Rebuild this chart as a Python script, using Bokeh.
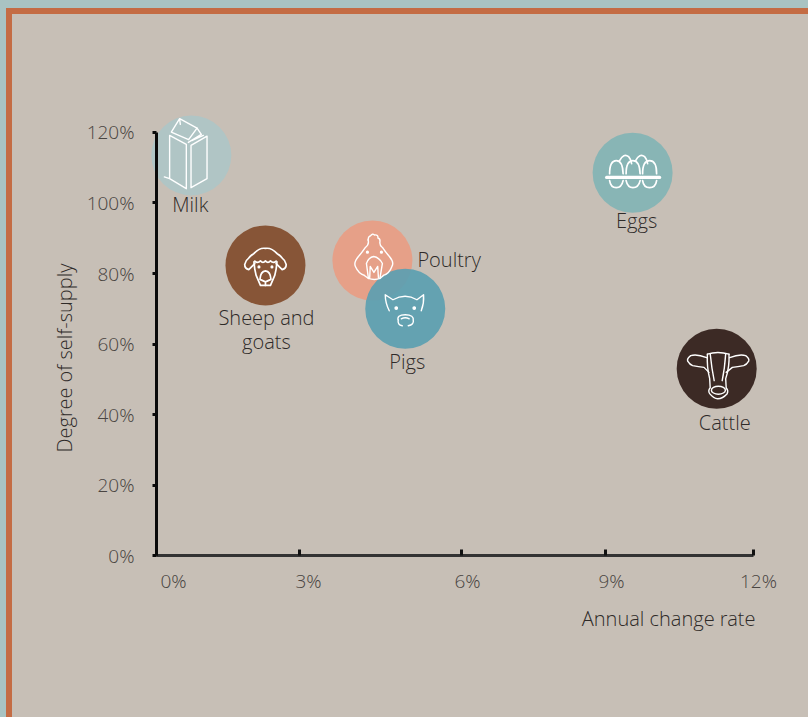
import base64
from bokeh.plotting import figure
from bokeh.models import ColumnDataSource, Range1d, FixedTicker
from bokeh.core.properties import value
from bokeh.embed import file_html
from bokeh.resources import INLINE

# ---- data ----
names = ["Poultry", "Pigs", "Milk", "Eggs", "Sheep and goats", "Cattle"]
annual_change = [4.34, 5.0, 0.70, 9.57, 2.19, 11.26]
self_supply = [83.7, 70.0, 113.5, 108.6, 82.3, 53.0]
bubble_colors = ["#e6a088", "#5c9fb0", "#b0c5c5", "#88b5b5", "#875537", "#3c2a25"]
bubble_alpha = [1.0, 0.93, 1.0, 1.0, 1.0, 1.0]

label_lines = ["Poultry", "Pigs", "Milk", "Eggs", "Sheep and", "goats", "Cattle"]
label_x = [4.34, 5.0, 0.70, 9.57, 2.19, 2.19, 11.26]
label_y = [83.7, 69.8, 113.5, 108.6, 82.3, 82.3, 53.0]
label_dx = [45, 2, -1, 4, 1, 1, 8]
label_dy = [-1, 52, 49, 48, 52, 76, 54]
label_align = ["left", "center", "center", "center", "center", "center", "center"]

x_tick_pos = [0, 2.874, 6.13, 9.025, 12]
x_tick_labels = ["0%", "3%", "6%", "9%", "12%"]
x_label_dx = [17, 9, 6, 6, 5]
y_ticks = [0, 20, 40, 60, 80, 100, 120]
y_tick_labels = ["0%", "20%", "40%", "60%", "80%", "100%", "120%"]

FONT = "Open Sans Light"
TEXT = "#2e2a28"
TICK_TEXT = "#4a4542"
PANEL = "#c7bfb6"

def svg(body):
    s = ('<svg xmlns="http://www.w3.org/2000/svg" width="80" height="80" viewBox="0 0 80 80">'
         '<g fill="none" stroke="#ffffff" stroke-width="1.4" stroke-linejoin="round" stroke-linecap="round">'
         + body + '</g></svg>')
    return "data:image/svg+xml;base64," + base64.b64encode(s.encode()).decode()

icons = {
 "Milk": svg('<path d="M18.3 20L35 29V73.3L18.3 63.3ZM13 61.5L18.3 63.3"/>'
             '<path d="M39.7 30L55.7 20.7V63.3L39.7 72.3Z"/>'
             '<path d="M28.3 3.3L45.7 12.7L37.3 24.3L20 16.7ZM28.3 3.3L29 9"/>'
             '<path d="M37 27L50 19M41 25L52 20M45.7 12.7L50 19"/>'),
 "Poultry": svg('<path d="M35.7 19.5Q36 15.5 38 15.5Q40 12.5 42 14.5Q46 14 45.5 17.5Q48 18 47.5 21.5Q47 25 50 27Q54 33 57 36Q62 42 59.5 46Q57 53 51 55"/>'
                '<path d="M35.7 19.5Q37 24 33 27Q29 33 26 36Q21 42 23 46Q26 53 32 55"/>'
                '<path d="M34 43Q36 37 41.3 36Q47 37 50 43L47.5 58Q42 60 36 58Z"/>'
                '<path d="M37.3 57L37.8 46L41.5 52L45.3 46L46 57M32 55L36 58M51 55L47.5 58"/>'
                '<circle cx="35" cy="31.7" r=".9" fill="#fff"/><circle cx="49" cy="31.7" r=".9" fill="#fff"/>'),
 "Pigs": svg('<path d="M24 42Q20 34 20 26L27.7 31Q40 24 51.7 31L58.3 26Q59 34 56 42"/>'
             '<circle cx="31" cy="39.3" r="1.2" fill="#fff"/><circle cx="49" cy="39.3" r="1.2" fill="#fff"/>'
             '<path d="M33 52Q31 46 40 46Q49 46 48 52M33 51Q32 56 37 57M48 51Q49 56 43 57"/>'
             '<path d="M36 50Q40 48 44 50"/>'),
 "Eggs": svg('<g stroke-width="1.7"><path d="M27 28Q31 20 36 24Q38 26 39 31M43 28Q47 20 52 24Q54 26 55 31"/>'
             '<path d="M17 41Q17 28 23.7 28Q30 28 30.5 41M33.5 41Q33.5 28 40.3 28Q47 28 47.5 41M50 41Q50 28 57 28Q64 28 64 41"/>'
             '<path d="M17 48Q18 55 23.7 55Q29 55 30.5 48M33.5 48Q35 55 40.3 55Q46 55 47.5 48M50 48Q51 55 57 55Q63 55 64 48"/></g>'
             '<path d="M14 44.7H67" stroke-width="3.2"/>'),
 "Sheep and goats": svg('<g stroke-width="1.7"><path d="M29.3 38.3L23.3 44.3Q19 43 19.3 39Q20 35 23 33Q25 30 28.3 28.3Q34 22 40 23Q46 22 51.7 28.3Q55 30 57 33Q60 35 60.7 39Q61 43 56.7 44.3L50.7 38.3"/>'
                        '<path d="M29.3 35.7Q32 38.5 35 35.5Q37.5 38.5 40 35.5Q42.5 38.5 45 35.5Q48 38.5 50.7 35.7"/>'
                        '<path d="M28.5 36.5Q29 44 30.7 50L35 60H45L49.3 50Q51 44 51.5 36.5"/>'
                        '<path d="M34.5 54Q35 46 40 45.5Q45 46 45.5 54L40 56.5ZM40 56.5V60"/>'
                        '<circle cx="33.5" cy="41.5" r=".7" fill="#fff"/><circle cx="46.5" cy="41.5" r=".7" fill="#fff"/></g>'),
 "Cattle": svg('<path d="M30.7 25.5Q41 22 52.3 25.5"/>'
               '<path d="M30 29Q20 25 14 27Q10 30 11 32.5Q13 36 16 37Q22 38 27.3 38.7L32.3 43.7"/>'
               '<path d="M53 29Q63 25 69 27Q73 30 72 32.5Q70 36 67 37Q61 38 55.7 38.7L49.5 43.7"/>'
               '<path d="M30.7 25.5Q30 38 33 50L33.5 59Q31 62 33 65Q37 70 41 70Q46 70 50.5 65Q52 62 49.5 59L49 50Q53 38 52.3 25.5"/>'
               '<path d="M33.5 25Q35 40 37.5 52M49 25Q48 40 45.5 52"/>'
               '<ellipse cx="41.7" cy="61.5" rx="7" ry="4"/>'),
}

p = figure(width=796, height=703, toolbar_location=None, output_backend="svg",
           x_range=Range1d(-2.4925, 13.005), y_range=Range1d(-40.28, 147.8),
           min_border_left=20, min_border_right=5, min_border_top=20, min_border_bottom=20,
           background_fill_color=PANEL, border_fill_color=PANEL, outline_line_color=None)
p.grid.visible = False

src = ColumnDataSource(dict(x=annual_change, y=self_supply, c=bubble_colors, a=bubble_alpha, n=names))
p.circle("x", "y", radius=40, radius_units="screen", fill_color="c", fill_alpha="a",
         line_color=None, source=src)
icon_src = ColumnDataSource(dict(x=annual_change, y=self_supply, url=[icons[n] for n in names]))
p.image_url(url="url", x="x", y="y", w=80, h=80, w_units="screen", h_units="screen",
            anchor="center", source=icon_src)

# axes fixed at zero
for ax, tick, loc, bounds in ((p.xaxis, x_tick_pos, 0, (0, 12)), (p.yaxis, y_ticks, 0, (0, 120))):
    ax.ticker = FixedTicker(ticks=tick)
    ax.fixed_location = loc
    ax.bounds = bounds
    ax.minor_tick_line_color = None
    ax.major_label_text_font_size = "0px"
    ax.major_label_text_color = None
    ax.major_label_standoff = 0
p.xaxis.axis_line_color = "#333333"
p.xaxis.axis_line_width = 3
p.xaxis.major_tick_line_color = "#111111"
p.xaxis.major_tick_line_width = 3
p.xaxis.major_tick_in = 6
p.xaxis.major_tick_out = 0
p.yaxis.axis_line_color = "#0a0a0a"
p.yaxis.axis_line_width = 3
p.yaxis.major_tick_line_color = "#0a0a0a"
p.yaxis.major_tick_line_width = 3
p.yaxis.major_tick_in = 0
p.yaxis.major_tick_out = 4

fs_tick = value("19px")
fs = value("20px")
ff = value(FONT)
p.text(x=[0] * 7, y=y_ticks, text=y_tick_labels, x_offset=-22, text_align="right",
       text_baseline="middle", text_font=ff, text_font_size=fs_tick, text_color=TICK_TEXT)
p.text(x=x_tick_pos, y=[0] * 5, text=x_tick_labels, x_offset=x_label_dx, y_offset=25,
       text_align="center", text_baseline="middle", text_font=ff, text_font_size=fs_tick, text_color=TICK_TEXT)
p.text(x="x", y="y", text="t", x_offset="dx", y_offset="dy", text_align="a",
       text_baseline="middle", text_font=ff, text_font_size=fs, text_color=TEXT,
       source=ColumnDataSource(dict(x=label_x, y=label_y, t=label_lines, dx=label_dx, dy=label_dy, a=label_align)))
p.text(x=[12], y=[0], text=["Annual change rate"], x_offset=2, y_offset=63, text_align="right",
       text_baseline="middle", text_font=ff, text_font_size=fs, text_color=TEXT)
p.text(x=[0], y=[56], text=["Degree of self-supply"], x_offset=-92, angle=1.5708, text_align="center",
       text_baseline="middle", text_font=ff, text_font_size=fs, text_color=TEXT)

html = file_html(p, INLINE)
style = ("<style>html{background:#a9c3c2;overflow:hidden}"
         "body{margin:8px 0 0 6px;border-left:6px solid #c46c44;border-top:6px solid #c46c44;background:#c7bfb6}</style>")
html = html.replace("</head>", style + "</head>", 1)
open("out.html", "w").write(html)
